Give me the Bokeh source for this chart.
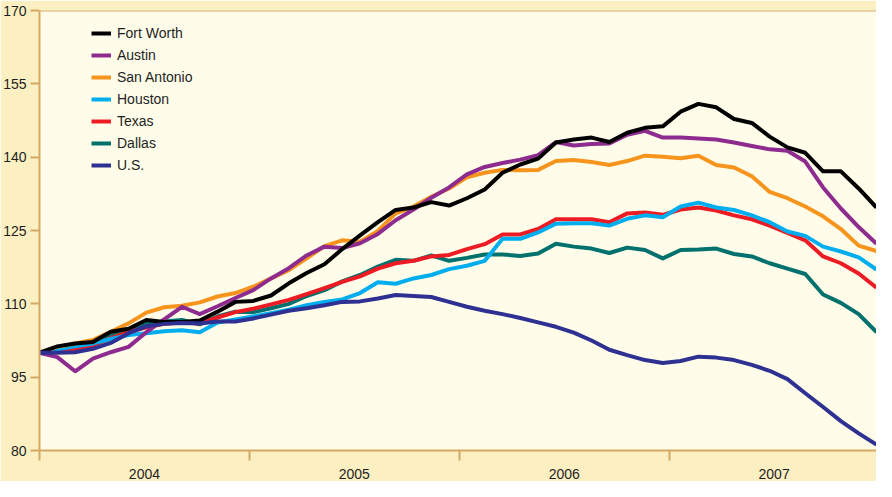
from bokeh.plotting import figure
from bokeh.models import (Range1d, FixedTicker, Legend, LegendItem, Span,
                          ColumnDataSource, CustomJSTickFormatter)
from bokeh.embed import file_html
from bokeh.resources import INLINE

# ---- data (index values, Jan 2004 = 100) ----
years = [2004, 2005, 2006, 2007]
points_per_year = 11.786
y_ticks = [80, 95, 110, 125, 140, 155, 170]

fort_worth = [100, 101.3, 101.9, 102.2, 104.3, 104.9, 106.7, 106.3, 106.3, 106.6, 108.4, 110.4,
              110.6, 111.7, 114.2, 116.3, 118.1, 121.2, 124.0, 126.7, 129.2, 129.7, 130.8, 130.1,
              131.6, 133.4, 136.8, 138.5, 139.7, 143.0, 143.6, 144.0, 143.1, 145.0, 146.0, 146.3,
              149.3, 150.9, 150.2, 147.8, 147.0, 144.2, 142.0, 140.9, 137.1, 137.1, 133.6, 129.7]
austin = [100, 99.1, 96.2, 98.8, 100.1, 101.2, 104.2, 106.8, 109.4, 107.9, 109.5, 111.2,
          112.8, 115.2, 117.3, 119.9, 121.7, 121.4, 122.4, 124.3, 127.1, 129.3, 131.7, 133.8,
          136.5, 138.0, 138.8, 139.5, 140.4, 143.1, 142.4, 142.7, 142.8, 144.6, 145.4, 144.0,
          144.0, 143.8, 143.6, 143.0, 142.3, 141.6, 141.3, 139.1, 133.8, 129.5, 125.7, 122.3]
san_antonio = [100, 101.2, 101.9, 102.6, 104.3, 106.0, 108.2, 109.3, 109.6, 110.3, 111.5, 112.2,
               113.5, 115.2, 116.9, 119.3, 121.8, 123.0, 122.7, 124.9, 128.5, 129.9, 131.9, 133.6,
               135.9, 136.8, 137.4, 137.3, 137.4, 139.2, 139.4, 139.0, 138.4, 139.2, 140.3, 140.1,
               139.8, 140.3, 138.4, 137.9, 136.1, 132.9, 131.6, 129.9, 127.9, 125.3, 121.9, 120.8]
houston = [100, 100.7, 101.3, 101.9, 102.8, 103.6, 104.0, 104.4, 104.6, 104.2, 106.2, 106.8,
           107.4, 108.1, 108.8, 109.7, 110.4, 110.9, 112.2, 114.4, 114.1, 115.2, 115.9, 117.1,
           117.8, 118.8, 123.3, 123.3, 124.6, 126.4, 126.5, 126.5, 126.0, 127.4, 128.1, 127.7,
           129.9, 130.7, 129.7, 129.2, 128.1, 126.7, 124.8, 123.9, 121.7, 120.7, 119.5, 117.0]
texas = [100, 100.3, 100.7, 101.5, 103.0, 104.2, 105.2, 105.9, 106.2, 106.0, 107.2, 108.3,
         109.0, 109.9, 110.8, 112.0, 113.2, 114.5, 115.6, 117.2, 118.3, 118.8, 119.7, 120.0,
         121.2, 122.2, 124.2, 124.2, 125.3, 127.3, 127.3, 127.3, 126.7, 128.5, 128.7, 128.2,
         129.3, 129.7, 129.1, 128.1, 127.3, 126.0, 124.5, 123.0, 119.7, 118.3, 116.2, 113.3]
dallas = [100, 100.2, 100.7, 101.9, 103.5, 104.8, 105.9, 106.4, 106.7, 105.8, 107.4, 108.4,
          108.3, 109.1, 110.0, 111.6, 112.8, 114.6, 115.9, 117.6, 119.0, 118.8, 119.9, 118.8,
          119.4, 120.1, 120.1, 119.8, 120.3, 122.3, 121.7, 121.3, 120.4, 121.5, 121.0, 119.3,
          121.0, 121.1, 121.3, 120.2, 119.7, 118.3, 117.2, 116.1, 111.9, 110.2, 107.9, 104.2]
us = [100, 100, 100.1, 100.8, 102.0, 104.0, 105.4, 105.9, 106.1, 106.0, 106.4, 106.4,
      107.0, 107.8, 108.6, 109.1, 109.7, 110.4, 110.5, 111.1, 111.8, 111.6, 111.4, 110.4,
      109.4, 108.6, 107.9, 107.1, 106.2, 105.3, 104.1, 102.5, 100.6, 99.5, 98.5, 97.9,
      98.3, 99.2, 99.0, 98.5, 97.5, 96.3, 94.6, 91.7, 88.9, 86.0, 83.5, 81.2]

idx = list(range(len(us)))

series = [  # name, values, color (legend order)
    ("Fort Worth", fort_worth, "#000000"),
    ("Austin", austin, "#8e2b8f"),
    ("San Antonio", san_antonio, "#f7941d"),
    ("Houston", houston, "#00aeef"),
    ("Texas", texas, "#ed1c24"),
    ("Dallas", dallas, "#00716d"),
    ("U.S.", us, "#2e3192"),
]
draw_order = ["Dallas", "Texas", "Houston", "San Antonio", "Austin", "Fort Worth", "U.S."]

TAN = "#d3a964"
OUTER = "#fcf0c3"
INNER = "#fffde9"
TEXT = "#1e1e1e"
FONT = "Liberation Sans"

p = figure(width=876, height=481, output_backend="svg", toolbar_location=None,
           x_range=Range1d(0, 47), y_range=Range1d(y_ticks[0], y_ticks[-1]),
           min_border_left=37, min_border_right=0, min_border_top=10, min_border_bottom=31)
p.background_fill_color = INNER
p.border_fill_color = OUTER
p.outline_line_color = None
p.xgrid.visible = False
p.ygrid.visible = False

# y axis
ya = p.yaxis[0]
ya.ticker = FixedTicker(ticks=y_ticks)
ya.axis_line_color = TAN
ya.axis_line_width = 2
ya.major_tick_line_color = TAN
ya.major_tick_line_width = 2
ya.major_tick_out = 9
ya.major_tick_in = 0
ya.minor_tick_line_color = None
ya.major_label_standoff = 4
ya.major_label_text_font = FONT
ya.major_label_text_font_size = "14px"
ya.major_label_text_color = TEXT

# x axis: boundary ticks as minor ticks, year labels at centres
centers = [(k + 0.5) * points_per_year for k in range(len(years))]
bounds = [k * points_per_year for k in range(len(years))]
xa = p.xaxis[0]
xa.ticker = FixedTicker(ticks=centers, minor_ticks=bounds)
xa.formatter = CustomJSTickFormatter(args=dict(years=years, ppy=points_per_year),
                                     code="return String(years[Math.floor(tick/ppy)])")
xa.axis_line_color = TAN
xa.axis_line_width = 2
xa.major_tick_line_color = None
xa.major_tick_out = 0
xa.major_tick_in = 0
xa.minor_tick_line_color = TAN
xa.minor_tick_line_width = 2
xa.minor_tick_out = 10
xa.minor_tick_in = 0
xa.major_label_standoff = 8
xa.major_label_text_font = FONT
xa.major_label_text_font_size = "14px"
xa.major_label_text_color = TEXT

# top border line of the plot frame
p.add_layout(Span(location=y_ticks[-1], dimension="width", line_color=TAN, line_width=2))

renderers = {}
lookup = {s[0]: s for s in series}
for name in draw_order:
    _, vals, color = lookup[name]
    src = ColumnDataSource(dict(x=idx, y=vals))
    renderers[name] = p.line("x", "y", source=src, line_color=color, line_width=4,
                             line_join="round")

legend = Legend(items=[LegendItem(label=n, renderers=[renderers[n]]) for n, _, _ in series],
                location=(52, 274), orientation="vertical",
                glyph_width=20, glyph_height=22, label_height=22, spacing=0,
                padding=0, margin=0, label_standoff=6,
                label_text_font=FONT, label_text_font_size="14px", label_text_color=TEXT,
                background_fill_alpha=0, border_line_color=None)
p.add_layout(legend)

open("out.html", "w").write(file_html(p, INLINE))
